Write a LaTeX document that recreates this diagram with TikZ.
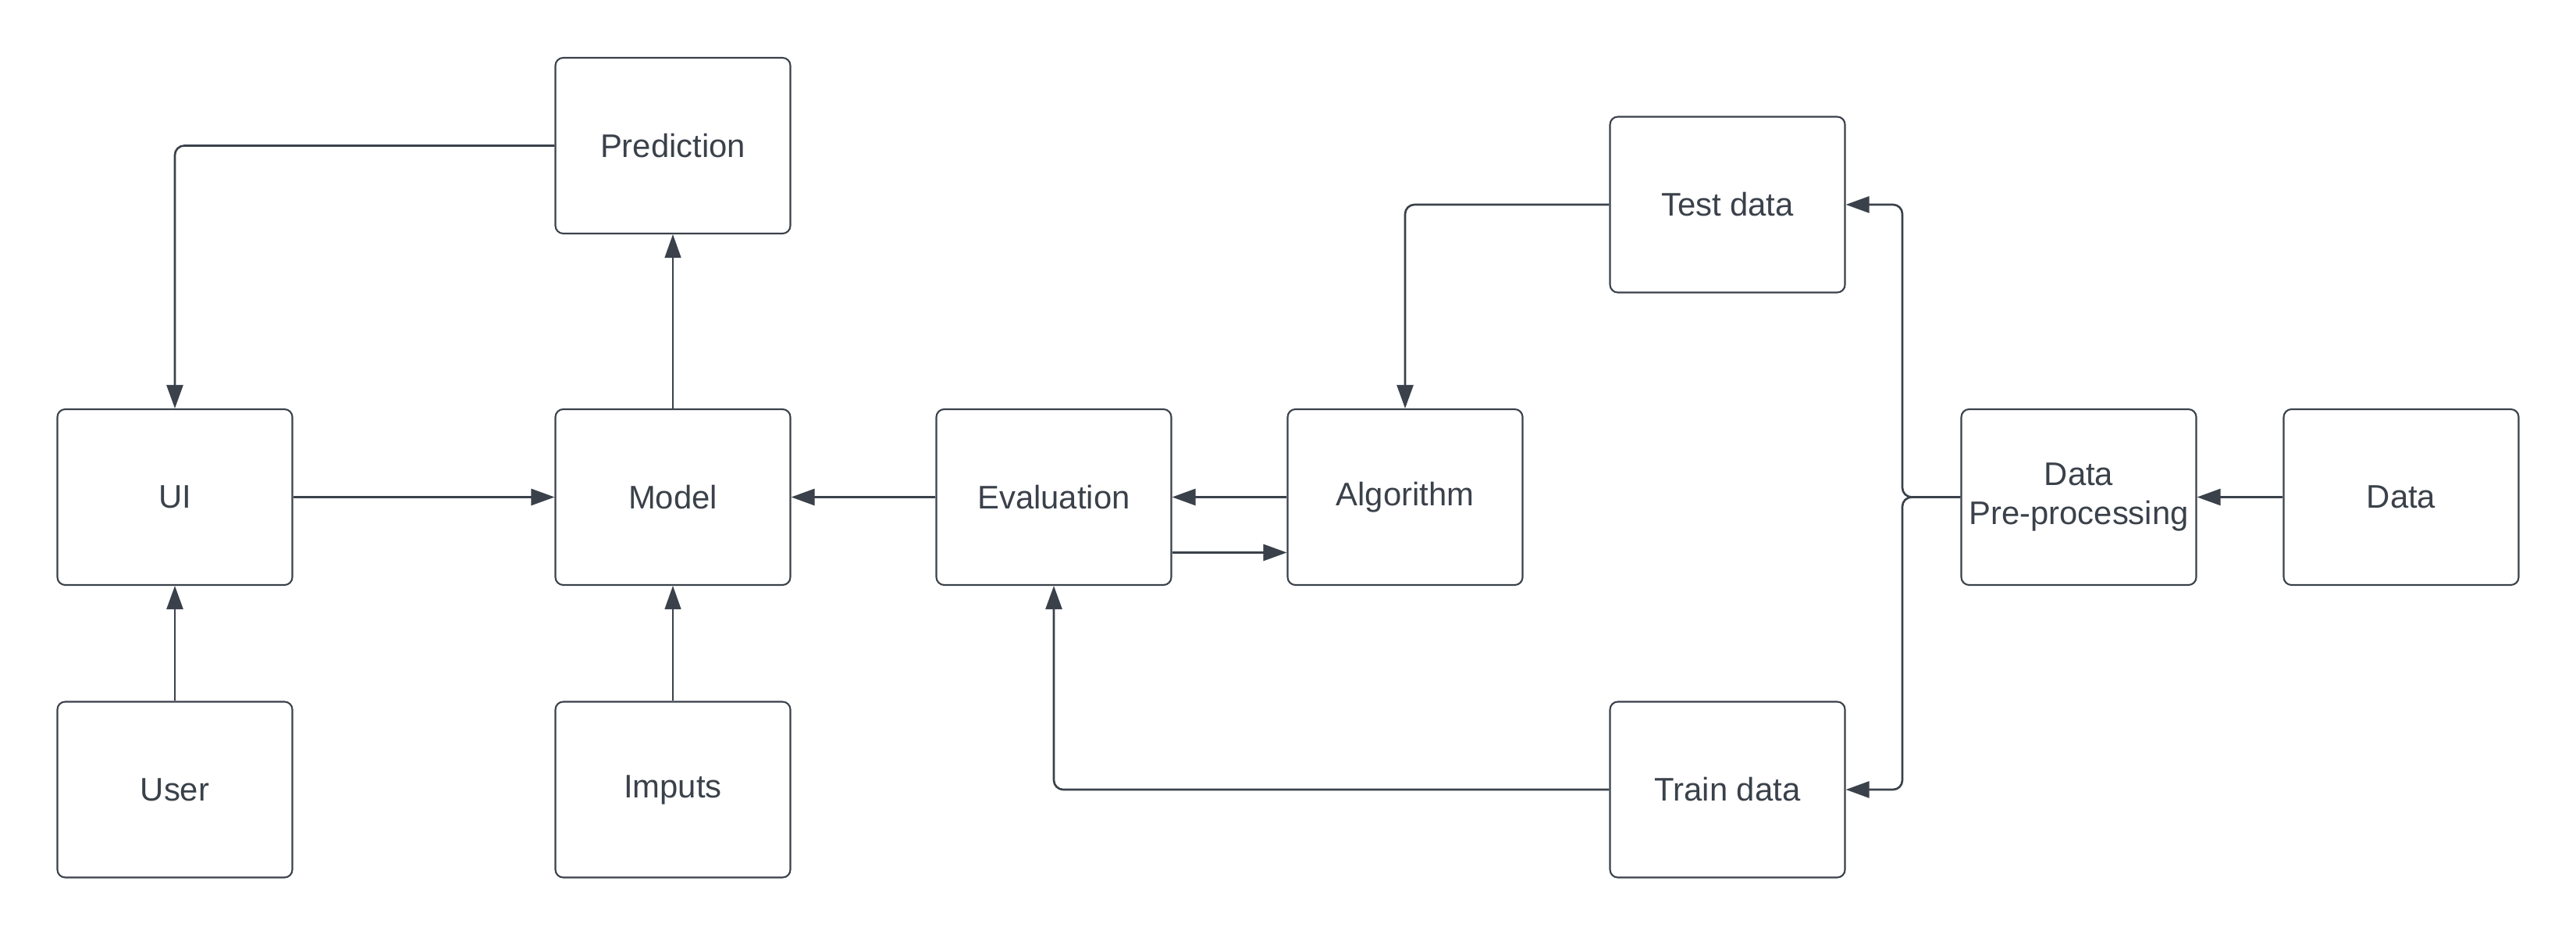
\documentclass[tikz,border=0pt]{standalone}
\usepackage{fontspec}
\setmainfont{Liberation Sans}
\usetikzlibrary{arrows.meta,positioning}
\definecolor{ink}{HTML}{3A414A}

\begin{document}
\begin{tikzpicture}[>={Triangle[length=0.3cm,width=0.21cm]}, scale=1.0,
  box/.style={draw=ink, line width=0.6pt, rounded corners=0.1cm,
    minimum width=3.01cm, minimum height=2.25cm, inner sep=0pt,
    text=ink, align=center, font=\fontsize{11.9}{14.2}\selectfont},
  link/.style={->, draw=ink, line width=0.75pt, rounded corners=0.12cm},
  faint/.style={->, draw=ink, line width=0.35pt}]
  \useasboundingbox (0,0) rectangle (33,12);
  % left block
  \node[box] (pred) at (8.62,10.135) {Prediction};
  \node[box] (ui) at (2.24,5.635) {UI};
  \node[box] (model) at (8.62,5.635) {Model};
  \node[box] (user) at (2.24,1.89) {User};
  \node[box] (imp) at (8.62,1.89) {Imputs};
  % training loop
  \node[box] (eval) at (13.50,5.635) {Evaluation};
  \node[box] (algo) at (18.00,5.635) {Algorithm};
  \node[box] (test) at (22.13,9.38) {Test data};
  \node[box] (train) at (22.13,1.89) {Train data};
  % data side
  \node[box] (prep) at (26.63,5.635) {Data\\Pre-processing};
  \node[box] (data) at (30.76,5.635) {Data};
  \coordinate (split) at (24.37,5.635);
  % connectors
  \draw[link] (pred.west) -| (ui.north);
  \draw[link] (ui) -- (model);
  \draw[faint] (model) -- (pred);
  \draw[link] (user) -- (ui);
  \draw[faint] (imp) -- (model);
  \draw[link] (eval) -- (model);
  \draw[link] (algo) -- (eval);
  \draw[link] ([yshift=-0.71cm]eval.east) -- ([yshift=-0.71cm]algo.west);
  \draw[link] (test.west) -| (algo.north);
  \draw[link] (train.west) -| (eval.south);
  \draw[link] (data) -- (prep);
  % split to test / train
  \draw[link] (prep.west) -- (split) |- (test.east);
  \draw[link] (prep.west) -- (split) |- (train.east);
\end{tikzpicture}
\end{document}
